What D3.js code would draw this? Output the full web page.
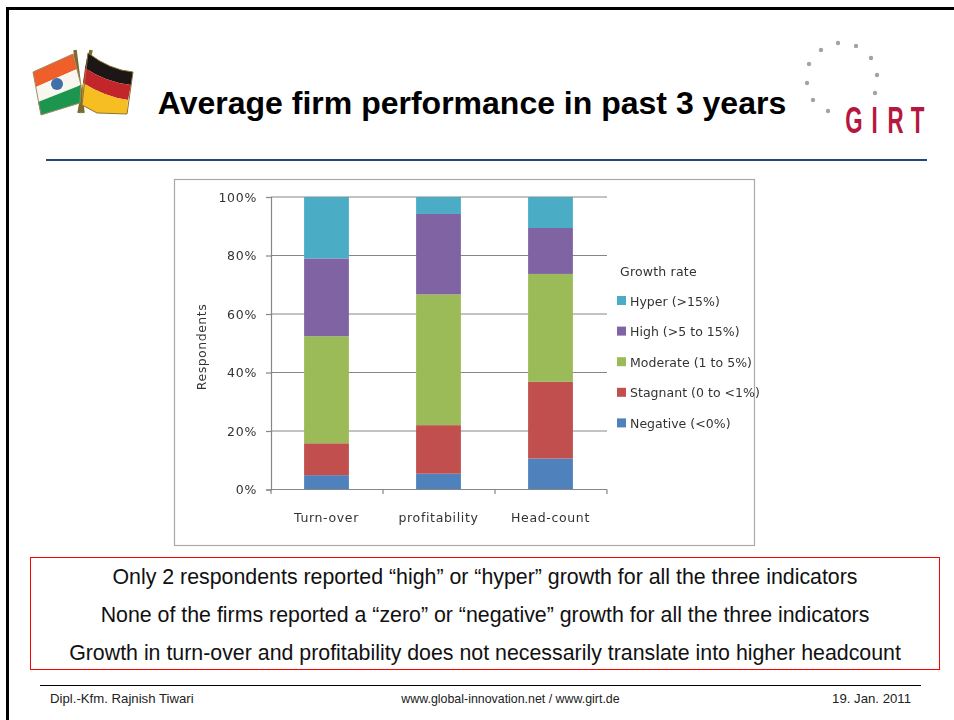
<!DOCTYPE html>
<html><head><meta charset="utf-8">
<style>html,body{margin:0;padding:0;background:#fff;overflow:hidden}svg{display:block}</style>
<script src="https://cdn.jsdelivr.net/npm/d3@7"></script></head>
<body><svg id="c" width="954" height="720"></svg>
<script>
const categories = ["Turn-over","profitability","Head-count"];
const seriesNames = ["Negative (<0%)","Stagnant (0 to <1%)","Moderate (1 to 5%)","High (>5 to 15%)","Hyper (>15%)"];
const negative = [4.9,5.4,10.6];
const stagnant = [10.9,16.6,26.2];
const moderate = [36.6,44.7,36.9];
const high = [26.6,27.5,15.7];
const hyper = [21.0,5.8,10.6];
const colors = ["#4F81BD","#C0504D","#9BBB59","#8064A2","#4BACC6"];
const yTicks = [0,20,40,60,80,100];
const notes = ["Only 2 respondents reported “high” or “hyper” growth for all the three indicators",
"None of the firms reported a “zero” or “negative” growth for all the three indicators",
"Growth in turn-over and profitability does not necessarily translate into higher headcount"];
const titleText = "Average firm performance in past 3 years";
const footer = ["Dipl.-Kfm. Rajnish Tiwari","www.global-innovation.net / www.girt.de","19. Jan. 2011"];
const legendTitle = "Growth rate";
const yLabel = "Respondents";
const logoLetters = ["G","I","R","T"];

const svg = d3.select("#c");
const sans = "'Liberation Sans',Arial,sans-serif", chartFont = "'DejaVu Sans',Verdana,sans-serif";
svg.append("rect").attr("width",954).attr("height",720).attr("fill","#fff");
const defs = svg.append("defs");
defs.append("filter").attr("id","soft").append("feGaussianBlur").attr("stdDeviation",0.45);
// slide frame
svg.append("path").attr("d","M7.5 720V8.5H954").attr("fill","none").attr("stroke","#000").attr("stroke-width",3);
svg.append("line").attr("x1",46).attr("x2",927).attr("y1",160).attr("y2",160).attr("stroke","#1F497D").attr("stroke-width",2);
svg.append("text").attr("x",472).attr("y",114).attr("text-anchor","middle").attr("font-family",sans).attr("font-weight","bold").attr("font-size",32).attr("fill","#000").text(titleText);

// flags
const fl = svg.append("g").attr("filter","url(#soft)");
fl.append("path").attr("d","M75 50L83 113M91 50L79 113").attr("stroke","#7d6b2d").attr("stroke-width",3.5).attr("fill","none");
const india = fl.append("g");
india.append("path").attr("d","M33 72L73 54L77 69L36 87Z").attr("fill","#ee5f2b");
india.append("path").attr("d","M36 87L77 69L81 85L38 102Z").attr("fill","#f7f7ef");
india.append("path").attr("d","M38 102L81 85L80 103L41 115Z").attr("fill","#1f9650");
india.append("circle").attr("cx",57).attr("cy",84).attr("r",6).attr("fill","#3f6fa8");
fl.append("path").attr("d","M33 72L73 54L81 85L80 103L41 115Z").attr("fill","none").attr("stroke","#a08a60").attr("stroke-width",1);
const ger = fl.append("g");
ger.append("path").attr("d","M88 53Q110 70 133 72L131 85Q105 82 85 68Z").attr("fill","#1a1612");
ger.append("path").attr("d","M85 68Q105 82 131 85L128 100Q105 97 83 83Z").attr("fill","#c3282a");
ger.append("path").attr("d","M83 83Q105 97 128 100L127 114L97 113L82 105Z").attr("fill","#f7be21");
fl.append("path").attr("d","M88 53Q110 70 133 72L127 114L97 113L82 105Z").attr("fill","none").attr("stroke","#8a7433").attr("stroke-width",1);

// GIRT logo
const logoDots = [[838,43],[821,50],[809,64],[807,83],[813,100],[828,111],[856,46],[871,58],[877,75],[875,93]];
svg.append("g").selectAll("circle").data(logoDots).join("circle").attr("cx",d=>d[0]).attr("cy",d=>d[1]).attr("r",2.2).attr("fill","#a3a3a3");
const logoX = [854,874.5,895.5,917.5];
svg.append("g").selectAll("text").data(logoLetters).join("text")
 .attr("transform",(d,i)=>`translate(${logoX[i]},133) scale(0.62,1)`).attr("text-anchor","middle")
 .attr("font-family",sans).attr("font-weight","bold").attr("font-size",36).attr("fill","#b5173f").text(d=>d);

// chart frame
svg.append("rect").attr("x",174.5).attr("y",179.5).attr("width",580).attr("height",366).attr("fill","#fff").attr("stroke","#a9a9a9").attr("stroke-width",1.2);

const x = d3.scaleBand().domain(categories).range([270.5,606.5]).paddingInner(0.6).paddingOuter(0.3);
const y = d3.scaleLinear().domain([0,100]).range([489.5,197]);
const chart = svg.append("g").attr("filter","url(#soft)");

const yAxis = d3.axisLeft(y).tickValues(yTicks).tickFormat(d=>d+"%").tickSize(5).tickPadding(9);
const gy = chart.append("g").attr("transform","translate(271,0)").call(yAxis);
gy.selectAll("path,line").attr("stroke","#868686").attr("stroke-width",1.2);
gy.selectAll("text").attr("font-family",chartFont).attr("font-size",12.5).attr("letter-spacing",0.7).attr("fill","#333");
chart.append("g").selectAll("line").data(yTicks.slice(1)).join("line").attr("x1",271).attr("x2",607).attr("y1",d=>y(d)).attr("y2",d=>y(d)).attr("stroke","#868686").attr("stroke-width",1.2);

const rows = categories.map((c,i)=>({c,s0:negative[i],s1:stagnant[i],s2:moderate[i],s3:high[i],s4:hyper[i]}));
const stack = d3.stack().keys(["s0","s1","s2","s3","s4"])(rows);
chart.append("g").selectAll("g").data(stack).join("g").attr("fill",(d,i)=>colors[i])
 .selectAll("rect").data(d=>d).join("rect").attr("x",d=>x(d.data.c)).attr("width",x.bandwidth()).attr("y",d=>y(d[1])).attr("height",d=>y(d[0])-y(d[1]));

const bandAxis = d3.scalePoint().domain(categories).range([270,606]).padding(0.5);
const xAxis = d3.axisBottom(bandAxis).tickSize(0).tickPadding(24);
const gx = chart.append("g").attr("transform","translate(0,489.5)").call(xAxis);
gx.select("path").attr("d","M271 0H607").attr("stroke","#868686").attr("stroke-width",1.2);
gx.selectAll("text").attr("font-family",chartFont).attr("font-size",12.5).attr("letter-spacing",0.65).attr("fill","#333");
chart.append("g").selectAll("line").data(d3.range(4)).join("line").attr("x1",d=>271+d*112).attr("x2",d=>271+d*112).attr("y1",489.5).attr("y2",494).attr("stroke","#868686").attr("stroke-width",1.2);

chart.append("text").attr("transform","translate(206,347) rotate(-90)").attr("text-anchor","middle").attr("font-family",chartFont).attr("font-size",12.5).attr("letter-spacing",0.5).attr("fill","#333").text(yLabel);

// legend
chart.append("text").attr("x",620).attr("y",276).attr("font-family",chartFont).attr("font-size",12.5).attr("letter-spacing",0.2).attr("fill","#333").text(legendTitle);
const lg = chart.append("g").selectAll("g").data(seriesNames.slice().reverse()).join("g").attr("transform",(d,i)=>`translate(617,${296+i*30.6})`);
lg.append("rect").attr("width",9).attr("height",9).attr("fill",(d,i)=>colors[4-i]);
lg.append("text").attr("x",13).attr("y",9.5).attr("font-family",chartFont).attr("font-size",12.5).attr("letter-spacing",0.03).attr("fill","#333").text(d=>d);

// notes box
svg.append("rect").attr("x",30.5).attr("y",557.5).attr("width",909).attr("height",112).attr("fill","none").attr("stroke","#f00").attr("stroke-width",1);
svg.append("g").selectAll("text").data(notes).join("text").attr("x",485).attr("y",(d,i)=>584+i*38).attr("text-anchor","middle").attr("font-family",sans).attr("font-size",21.35).attr("fill","#111").text(d=>d);

// footer
svg.append("line").attr("x1",40).attr("x2",921).attr("y1",685.5).attr("y2",685.5).attr("stroke","#000").attr("stroke-width",1);
const fx=[50,510.5,911], fa=["start","middle","end"], fs=[13.2,12.4,13.2];
svg.append("g").selectAll("text").data(footer).join("text").attr("x",(d,i)=>fx[i]).attr("y",703).attr("text-anchor",(d,i)=>fa[i]).attr("font-family",sans).attr("font-size",(d,i)=>fs[i]).attr("fill","#222").text(d=>d);
</script></body></html>
